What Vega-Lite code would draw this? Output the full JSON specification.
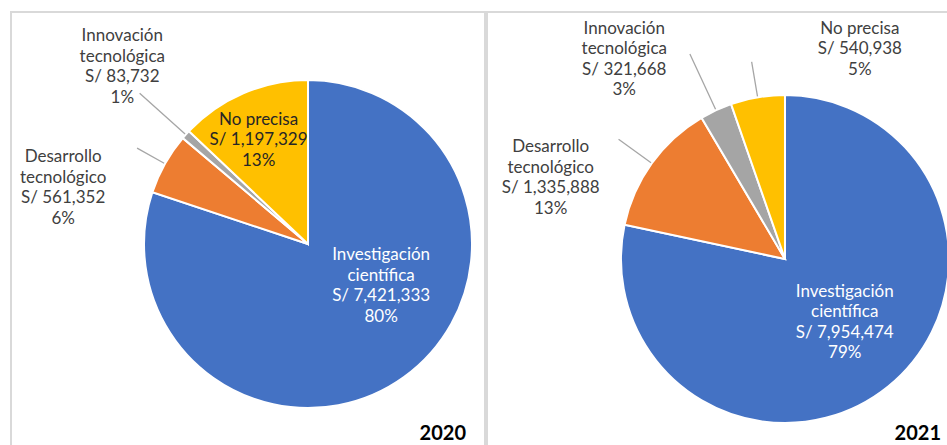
{
  "$schema": "https://vega.github.io/schema/vega-lite/v6.json",
  "padding": {"left": 10, "top": 11, "right": 0, "bottom": 0},
  "spacing": 0,
  "config": {
    "view": {"stroke": "#D9D9D9", "strokeWidth": 2},
    "font": "Lato",
    "title": {"font": "Lato", "fontSize": 20, "fontWeight": "bold", "color": "#000000"}
  },
  "data": {
    "values": [
      {"year": "2020", "order": 1, "key": "Inv", "name": "Investigación|científica", "value": 7421333, "pct": 80},
      {"year": "2020", "order": 2, "key": "Des", "name": "Desarrollo|tecnológico", "value": 561352, "pct": 6},
      {"year": "2020", "order": 3, "key": "Inn", "name": "Innovación|tecnológica", "value": 83732, "pct": 1},
      {"year": "2020", "order": 4, "key": "NoP", "name": "No precisa", "value": 1197329, "pct": 13},
      {"year": "2021", "order": 1, "key": "Inv", "name": "Investigación|científica", "value": 7954474, "pct": 79},
      {"year": "2021", "order": 2, "key": "Des", "name": "Desarrollo|tecnológico", "value": 1335888, "pct": 13},
      {"year": "2021", "order": 3, "key": "Inn", "name": "Innovación|tecnológica", "value": 321668, "pct": 3},
      {"year": "2021", "order": 4, "key": "NoP", "name": "No precisa", "value": 540938, "pct": 5}
    ]
  },
  "hconcat": [
    {
      "width": 474,
      "height": 440,
      "title": {"text": "2020", "orient": "bottom", "anchor": "end", "offset": -28, "dx": -19},
      "transform": [
        {"filter": "datum.year == '2020'"},
        {"stack": "value", "groupby": ["year"], "sort": [{"field": "order", "order": "ascending"}], "offset": "normalize", "as": ["v0", "v1"]},
        {"calculate": "(datum.v0 + datum.v1) / 2", "as": "mid"},
        {"calculate": "split(datum.name + '|S/ ' + format(datum.value, ',') + '|' + datum.pct + '%', '|')", "as": "label"}
      ],
      "encoding": {
        "x": {"datum": "c", "type": "nominal", "scale": {"type": "point", "align": 0.6266}, "axis": null},
        "y": {"datum": "c", "type": "nominal", "scale": {"type": "point", "align": 0.5273}, "axis": null}
      },
      "layer": [
        {
          "mark": {"type": "arc", "radius": 164, "stroke": "#FFFFFF", "strokeWidth": 2},
          "encoding": {
            "theta": {"field": "v0", "type": "quantitative", "stack": null, "scale": {"domain": [0, 1]}},
            "theta2": {"field": "v1"},
            "color": {"field": "key", "type": "nominal", "legend": null,
              "scale": {"domain": ["Inv", "Des", "Inn", "NoP"], "range": ["#4472C4", "#ED7D31", "#A5A5A5", "#FFC000"]}}
          }
        },
        {
          "transform": [{"filter": "datum.key == 'Des' || datum.key == 'Inn'"}],
          "mark": {"type": "arc", "radius": 165, "radius2": {"expr": "datum.key == 'Des' ? 196 : 226"}, "fill": "transparent", "stroke": "#A6A6A6", "strokeWidth": 1.3},
          "encoding": {
            "theta": {"field": "mid", "type": "quantitative", "stack": null, "scale": {"domain": [0, 1]}},
            "theta2": {"field": "mid"}
          }
        },
        {
          "mark": {
            "type": "text", "font": "Lato", "fontSize": 17, "lineHeight": 20.5, "align": "center", "baseline": "middle",
            "radius": {"expr": "datum.key == 'Inv' ? 84 : datum.key == 'Des' ? 251 : datum.key == 'Inn' ? 256 : 115"},
            "dx": {"expr": "datum.key == 'Inv' ? 24 : datum.key == 'Des' ? -26 : datum.key == 'Inn' ? 5 : -4"},
            "dy": {"expr": "datum.key == 'Inv' ? -57 : datum.key == 'Des' ? 36 : datum.key == 'Inn' ? -37 : -18.5"}
          },
          "encoding": {
            "theta": {"field": "mid", "type": "quantitative", "stack": null, "scale": {"domain": [0, 1]}},
            "text": {"field": "label"},
            "color": {"condition": [{"test": "datum.key == 'Inv'", "value": "#FFFFFF"}, {"test": "datum.key == 'NoP'", "value": "#262626"}], "value": "#404040"}
          }
        }
      ]
    },
    {
      "width": 470,
      "height": 440,
      "title": {"text": "2021", "orient": "bottom", "anchor": "end", "offset": -28, "dx": -16},
      "transform": [
        {"filter": "datum.year == '2021'"},
        {"stack": "value", "groupby": ["year"], "sort": [{"field": "order", "order": "ascending"}], "offset": "normalize", "as": ["v0", "v1"]},
        {"calculate": "(datum.v0 + datum.v1) / 2", "as": "mid"},
        {"calculate": "split(datum.name + '|S/ ' + format(datum.value, ',') + '|' + datum.pct + '%', '|')", "as": "label"}
      ],
      "encoding": {
        "x": {"datum": "c", "type": "nominal", "scale": {"type": "point", "align": 0.634}, "axis": null},
        "y": {"datum": "c", "type": "nominal", "scale": {"type": "point", "align": 0.5614}, "axis": null}
      },
      "layer": [
        {
          "mark": {"type": "arc", "radius": 164, "stroke": "#FFFFFF", "strokeWidth": 2},
          "encoding": {
            "theta": {"field": "v0", "type": "quantitative", "stack": null, "scale": {"domain": [0, 1]}},
            "theta2": {"field": "v1"},
            "color": {"field": "key", "type": "nominal", "legend": null,
              "scale": {"domain": ["Inv", "Des", "Inn", "NoP"], "range": ["#4472C4", "#ED7D31", "#A5A5A5", "#FFC000"]}}
          }
        },
        {
          "transform": [{"filter": "datum.key != 'Inv'"}],
          "mark": {"type": "arc", "radius": 165, "radius2": {"expr": "datum.key == 'Des' ? 205 : datum.key == 'Inn' ? 226 : 200"}, "fill": "transparent", "stroke": "#A6A6A6", "strokeWidth": 1.3},
          "encoding": {
            "theta": {"field": "mid", "type": "quantitative", "stack": null, "scale": {"domain": [0, 1]}},
            "theta2": {"field": "mid"}
          }
        },
        {
          "mark": {
            "type": "text", "font": "Lato", "fontSize": 17, "lineHeight": 20.5, "align": "center", "baseline": "middle",
            "radius": {"expr": "datum.key == 'Inv' ? 87 : datum.key == 'Des' ? 248 : datum.key == 'Inn' ? 256 : 223"},
            "dx": {"expr": "datum.key == 'Inv' ? 5 : datum.key == 'Des' ? -33 : datum.key == 'Inn' ? -53 : 112"},
            "dy": {"expr": "datum.key == 'Inv' ? -35 : datum.key == 'Des' ? 33 : datum.key == 'Inn' ? 2 : -10.5"}
          },
          "encoding": {
            "theta": {"field": "mid", "type": "quantitative", "stack": null, "scale": {"domain": [0, 1]}},
            "text": {"field": "label"},
            "color": {"condition": {"test": "datum.key == 'Inv'", "value": "#FFFFFF"}, "value": "#404040"}
          }
        }
      ]
    }
  ]
}
